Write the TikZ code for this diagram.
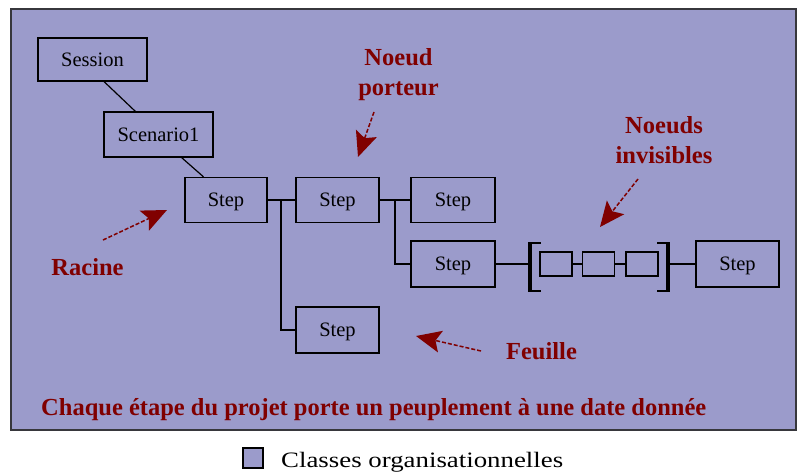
\documentclass[tikz,border=0pt]{standalone}
\usepackage{fontspec}
\usepackage{graphicx}
\setmainfont{Liberation Serif}
\usetikzlibrary{arrows.meta,calc}
\definecolor{panel}{RGB}{155,155,203}
\definecolor{labelred}{RGB}{128,0,0}
\definecolor{frame}{RGB}{55,55,60}
\begin{document}
\begin{tikzpicture}[x=1pt,y=-1pt,
  box/.style={draw=black,fill=panel,line width=1.3pt,inner sep=0pt,
    minimum width=83pt,minimum height=45pt,text height=13.5pt,text depth=0pt,
    font=\fontsize{20.5}{24}\selectfont},
  blank/.style={draw=black,fill=panel,line width=1.3pt,inner sep=0pt,
    minimum width=32pt,minimum height=24pt},
  wire/.style={line width=1.2pt},
  bar/.style={line width=3.5pt},
  tick/.style={line width=1.5pt},
  note/.style={text=labelred,font=\bfseries\fontsize{24.5}{30}\selectfont,
    inner sep=0pt,align=center},
  pointer/.style={draw=labelred,line width=1.5pt,dash pattern=on 4pt off 2pt,
    -{Stealth[length=25pt,width=22pt,inset=5pt]}}
]
\useasboundingbox (0,0) rectangle (797,471);
% panel
\path[fill=panel,draw=frame,line width=1.5pt] (11,9) rectangle (796,430);

% hierarchy
\node[box,minimum width=109pt,minimum height=43pt] (sess) at (92.5,59.5) {Session};
\node[box,minimum width=109pt] (scen) at (158.5,134.5) {Scenario1};
\node[box,minimum width=82pt] (s1) at (226,200) {Step};
\node[box] (s2) at (337.5,200) {Step};
\node[box,minimum width=84pt] (s3) at (453,200) {Step};
\node[box,minimum width=84pt,minimum height=46pt] (s4) at (453,264) {Step};
\node[box,minimum height=46pt] (s5) at (337.5,330) {Step};
\node[box,minimum height=46pt] (s6) at (737.5,264) {Step};

% invisible nodes
\node[blank] (b1) at (556,264) {};
\node[blank] (b2) at (598.5,264) {};
\node[blank] (b3) at (642,264) {};

% brackets around the invisible nodes
\coordinate (lb) at (530,264);
\coordinate (rb) at (668,264);
\draw[bar] (530,242) -- (530,292);
\draw[tick] (530,243) -- (541,243) (530,291) -- (541,291);
\draw[bar] (668,242) -- (668,292);
\draw[tick] (668,243) -- (657,243) (668,291) -- (657,291);

% links
\draw[wire] ($(sess.south west)!0.605!(sess.south east)$) -- ($(scen.north west)!0.29!(scen.north east)$);
\draw[wire] ($(scen.south west)!0.71!(scen.south east)$) -- ($(s1.north west)!0.23!(s1.north east)$);
\coordinate (j1) at (281,200);
\coordinate (j2) at (395,200);
\draw[wire] (s1.east) -- (s2.west);
\draw[wire] (j1) |- (s5.west);
\draw[wire] (s2.east) -- (s3.west);
\draw[wire] (j2) |- (s4.west);
\draw[wire] (s4.east) -- (lb);
\draw[wire] (b1.east) -- (b2.west);
\draw[wire] (b2.east) -- (b3.west);
\draw[wire] (rb) -- (s6.west);

% annotations
\node[note,anchor=north] (porteur) at (398.5,48) {Noeud\\porteur};
\node[note,anchor=north] (invis) at (664,116) {Noeuds\\invisibles};
\node[note,anchor=base] (racine) at (87.5,275) {Racine};
\node[note,anchor=base] (feuille) at (541.5,359) {Feuille};
\node[note,anchor=base west] (motto) at (41,415)
  {Chaque étape du projet porte un peuplement à une date donnée};

\coordinate (pA) at (374,112); \coordinate (pB) at (358,157);
\coordinate (iA) at (638,179); \coordinate (iB) at (600,227);
\coordinate (rA) at (103,240); \coordinate (rB) at (167,210);
\coordinate (fA) at (481,351); \coordinate (fB) at (416,336);
\draw[pointer] (pA) -- (pB);
\draw[pointer] (iA) -- (iB);
\draw[pointer] (rA) -- (rB);
\draw[pointer] (fA) -- (fB);

% legend
\node[draw=black,fill=panel,line width=1.2pt,minimum size=20pt,inner sep=0pt] (key) at (253,458) {};
\node[anchor=base west,inner sep=0pt,font=\fontsize{22}{26}\selectfont] (keytext) at (281,467)
  {\scalebox{1.22}[1]{Classes organisationnelles}};
\end{tikzpicture}
\end{document}
